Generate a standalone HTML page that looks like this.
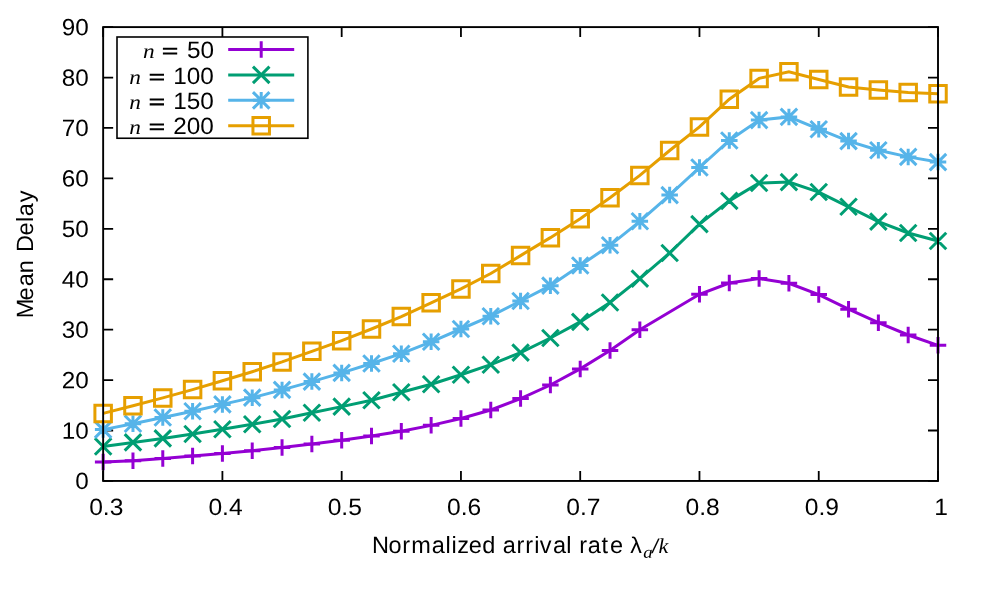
<!DOCTYPE html>
<html><head><meta charset="utf-8"><title>Mean Delay vs Normalized arrival rate</title>
<style>html,body{margin:0;padding:0;background:#fff;overflow:hidden}svg{display:block;will-change:transform}text{font-family:"Liberation Sans",sans-serif;fill:#000;white-space:pre;text-rendering:geometricPrecision}text.si{font-family:"Liberation Serif",serif;font-style:italic}text.it{font-style:italic}</style></head>
<body>
<svg width="981" height="589" viewBox="0 0 981 589">
<rect width="981" height="589" fill="#fff"/>
<path d="M103.15 480.95V470.95M103.15 27.1V37.1M222.41 480.95V470.95M222.41 27.1V37.1M341.68 480.95V470.95M341.68 27.1V37.1M460.94 480.95V470.95M460.94 27.1V37.1M580.21 480.95V470.95M580.21 27.1V37.1M699.47 480.95V470.95M699.47 27.1V37.1M818.74 480.95V470.95M818.74 27.1V37.1M938 480.95V470.95M938 27.1V37.1M103.15 480.95H113.15M938 480.95H928M103.15 430.52H113.15M938 430.52H928M103.15 380.09H113.15M938 380.09H928M103.15 329.67H113.15M938 329.67H928M103.15 279.24H113.15M938 279.24H928M103.15 228.81H113.15M938 228.81H928M103.15 178.38H113.15M938 178.38H928M103.15 127.96H113.15M938 127.96H928M103.15 77.53H113.15M938 77.53H928M103.15 27.1H113.15M938 27.1H928" stroke="#000" stroke-width="1.8" fill="none"/>
<rect x="117" y="37" width="190.9" height="101.25" fill="none" stroke="#000" stroke-width="1.6"/>
<g stroke="#9400d3" stroke-width="3.0" fill="none"><path d="M103.15 462L132.97 460.65L162.78 458.4L192.6 455.9L222.41 453.5L252.23 450.65L282.05 447.4L311.86 444.1L341.68 440.2L371.49 436.1L401.31 431.2L431.13 425.35L460.94 418.5L490.76 410L520.58 398.6L550.39 385L580.21 368.9L610.02 350.45L639.84 329.74L699.47 294.25L729.29 283L759.1 278.6L788.92 283.3L818.74 294.6L848.55 309.15L878.37 322.65L908.18 335L938 345.3" stroke-linejoin="miter"/><path d="M94.9 462H111.4M103.15 453.75V470.25M124.72 460.65H141.22M132.97 452.4V468.9M154.53 458.4H171.03M162.78 450.15V466.65M184.35 455.9H200.85M192.6 447.65V464.15M214.16 453.5H230.66M222.41 445.25V461.75M243.98 450.65H260.48M252.23 442.4V458.9M273.8 447.4H290.3M282.05 439.15V455.65M303.61 444.1H320.11M311.86 435.85V452.35M333.43 440.2H349.93M341.68 431.95V448.45M363.24 436.1H379.74M371.49 427.85V444.35M393.06 431.2H409.56M401.31 422.95V439.45M422.88 425.35H439.38M431.13 417.1V433.6M452.69 418.5H469.19M460.94 410.25V426.75M482.51 410H499.01M490.76 401.75V418.25M512.33 398.6H528.83M520.58 390.35V406.85M542.14 385H558.64M550.39 376.75V393.25M571.96 368.9H588.46M580.21 360.65V377.15M601.77 350.45H618.27M610.02 342.2V358.7M631.59 329.74H648.09M639.84 321.49V337.99M691.22 294.25H707.72M699.47 286V302.5M721.04 283H737.54M729.29 274.75V291.25M750.85 278.6H767.35M759.1 270.35V286.85M780.67 283.3H797.17M788.92 275.05V291.55M810.49 294.6H826.99M818.74 286.35V302.85M840.3 309.15H856.8M848.55 300.9V317.4M870.12 322.65H886.62M878.37 314.4V330.9M899.93 335H916.43M908.18 326.75V343.25M929.75 345.3H946.25M938 337.05V353.55"/></g>
<g stroke="#9400d3" stroke-width="3.0" fill="none"><path d="M228.2 49.55H294.2"/><path d="M252.95 49.55H269.45M261.2 41.3V57.8"/></g>
<g stroke="#009e73" stroke-width="3.0" fill="none"><path d="M103.15 446.5L132.97 442.4L162.78 438.4L192.6 434L222.41 429.2L252.23 424.3L282.05 419L311.86 412.8L341.68 406.6L371.49 400.2L401.31 392.3L431.13 384.25L460.94 374.8L490.76 364.7L520.58 352.6L550.39 338L580.21 321.9L610.02 302.5L639.84 278.6L669.66 253L699.47 224.1L729.29 200.85L759.1 183L788.92 182.1L818.74 192.05L848.55 206.8L878.37 221.6L908.18 233L938 241" stroke-linejoin="miter"/><path d="M94.9 438.25L111.4 454.75M94.9 454.75L111.4 438.25M124.72 434.15L141.22 450.65M124.72 450.65L141.22 434.15M154.53 430.15L171.03 446.65M154.53 446.65L171.03 430.15M184.35 425.75L200.85 442.25M184.35 442.25L200.85 425.75M214.16 420.95L230.66 437.45M214.16 437.45L230.66 420.95M243.98 416.05L260.48 432.55M243.98 432.55L260.48 416.05M273.8 410.75L290.3 427.25M273.8 427.25L290.3 410.75M303.61 404.55L320.11 421.05M303.61 421.05L320.11 404.55M333.43 398.35L349.93 414.85M333.43 414.85L349.93 398.35M363.24 391.95L379.74 408.45M363.24 408.45L379.74 391.95M393.06 384.05L409.56 400.55M393.06 400.55L409.56 384.05M422.88 376L439.38 392.5M422.88 392.5L439.38 376M452.69 366.55L469.19 383.05M452.69 383.05L469.19 366.55M482.51 356.45L499.01 372.95M482.51 372.95L499.01 356.45M512.33 344.35L528.83 360.85M512.33 360.85L528.83 344.35M542.14 329.75L558.64 346.25M542.14 346.25L558.64 329.75M571.96 313.65L588.46 330.15M571.96 330.15L588.46 313.65M601.77 294.25L618.27 310.75M601.77 310.75L618.27 294.25M631.59 270.35L648.09 286.85M631.59 286.85L648.09 270.35M661.41 244.75L677.91 261.25M661.41 261.25L677.91 244.75M691.22 215.85L707.72 232.35M691.22 232.35L707.72 215.85M721.04 192.6L737.54 209.1M721.04 209.1L737.54 192.6M750.85 174.75L767.35 191.25M750.85 191.25L767.35 174.75M780.67 173.85L797.17 190.35M780.67 190.35L797.17 173.85M810.49 183.8L826.99 200.3M810.49 200.3L826.99 183.8M840.3 198.55L856.8 215.05M840.3 215.05L856.8 198.55M870.12 213.35L886.62 229.85M870.12 229.85L886.62 213.35M899.93 224.75L916.43 241.25M899.93 241.25L916.43 224.75M929.75 232.75L946.25 249.25M929.75 249.25L946.25 232.75"/></g>
<g stroke="#009e73" stroke-width="3.0" fill="none"><path d="M228.2 74.93H294.2"/><path d="M252.95 66.68L269.45 83.18M252.95 83.18L269.45 66.68"/></g>
<g stroke="#56b4e9" stroke-width="3.0" fill="none"><path d="M103.15 429.6L132.97 423.7L162.78 417.55L192.6 411.2L222.41 404.4L252.23 397.65L282.05 389.9L311.86 381.6L341.68 372.9L371.49 363.5L401.31 353.7L431.13 341.8L460.94 329L490.76 316.2L520.58 301L550.39 285.65L580.21 265.5L610.02 245.3L639.84 221.3L669.66 195.1L699.47 167.5L729.29 140.5L759.1 120.1L788.92 116.9L818.74 129.2L848.55 141.1L878.37 150.2L908.18 156.9L938 162.1" stroke-linejoin="miter"/><path d="M94.9 429.6H111.4M103.15 421.35V437.85M94.9 421.35L111.4 437.85M94.9 437.85L111.4 421.35M124.72 423.7H141.22M132.97 415.45V431.95M124.72 415.45L141.22 431.95M124.72 431.95L141.22 415.45M154.53 417.55H171.03M162.78 409.3V425.8M154.53 409.3L171.03 425.8M154.53 425.8L171.03 409.3M184.35 411.2H200.85M192.6 402.95V419.45M184.35 402.95L200.85 419.45M184.35 419.45L200.85 402.95M214.16 404.4H230.66M222.41 396.15V412.65M214.16 396.15L230.66 412.65M214.16 412.65L230.66 396.15M243.98 397.65H260.48M252.23 389.4V405.9M243.98 389.4L260.48 405.9M243.98 405.9L260.48 389.4M273.8 389.9H290.3M282.05 381.65V398.15M273.8 381.65L290.3 398.15M273.8 398.15L290.3 381.65M303.61 381.6H320.11M311.86 373.35V389.85M303.61 373.35L320.11 389.85M303.61 389.85L320.11 373.35M333.43 372.9H349.93M341.68 364.65V381.15M333.43 364.65L349.93 381.15M333.43 381.15L349.93 364.65M363.24 363.5H379.74M371.49 355.25V371.75M363.24 355.25L379.74 371.75M363.24 371.75L379.74 355.25M393.06 353.7H409.56M401.31 345.45V361.95M393.06 345.45L409.56 361.95M393.06 361.95L409.56 345.45M422.88 341.8H439.38M431.13 333.55V350.05M422.88 333.55L439.38 350.05M422.88 350.05L439.38 333.55M452.69 329H469.19M460.94 320.75V337.25M452.69 320.75L469.19 337.25M452.69 337.25L469.19 320.75M482.51 316.2H499.01M490.76 307.95V324.45M482.51 307.95L499.01 324.45M482.51 324.45L499.01 307.95M512.33 301H528.83M520.58 292.75V309.25M512.33 292.75L528.83 309.25M512.33 309.25L528.83 292.75M542.14 285.65H558.64M550.39 277.4V293.9M542.14 277.4L558.64 293.9M542.14 293.9L558.64 277.4M571.96 265.5H588.46M580.21 257.25V273.75M571.96 257.25L588.46 273.75M571.96 273.75L588.46 257.25M601.77 245.3H618.27M610.02 237.05V253.55M601.77 237.05L618.27 253.55M601.77 253.55L618.27 237.05M631.59 221.3H648.09M639.84 213.05V229.55M631.59 213.05L648.09 229.55M631.59 229.55L648.09 213.05M661.41 195.1H677.91M669.66 186.85V203.35M661.41 186.85L677.91 203.35M661.41 203.35L677.91 186.85M691.22 167.5H707.72M699.47 159.25V175.75M691.22 159.25L707.72 175.75M691.22 175.75L707.72 159.25M721.04 140.5H737.54M729.29 132.25V148.75M721.04 132.25L737.54 148.75M721.04 148.75L737.54 132.25M750.85 120.1H767.35M759.1 111.85V128.35M750.85 111.85L767.35 128.35M750.85 128.35L767.35 111.85M780.67 116.9H797.17M788.92 108.65V125.15M780.67 108.65L797.17 125.15M780.67 125.15L797.17 108.65M810.49 129.2H826.99M818.74 120.95V137.45M810.49 120.95L826.99 137.45M810.49 137.45L826.99 120.95M840.3 141.1H856.8M848.55 132.85V149.35M840.3 132.85L856.8 149.35M840.3 149.35L856.8 132.85M870.12 150.2H886.62M878.37 141.95V158.45M870.12 141.95L886.62 158.45M870.12 158.45L886.62 141.95M899.93 156.9H916.43M908.18 148.65V165.15M899.93 148.65L916.43 165.15M899.93 165.15L916.43 148.65M929.75 162.1H946.25M938 153.85V170.35M929.75 153.85L946.25 170.35M929.75 170.35L946.25 153.85"/></g>
<g stroke="#56b4e9" stroke-width="3.0" fill="none"><path d="M228.2 100.32H294.2"/><path d="M252.95 100.32H269.45M261.2 92.07V108.57M252.95 92.07L269.45 108.57M252.95 108.57L269.45 92.07"/></g>
<g stroke="#e69f00" stroke-width="3.0" fill="none"><path d="M103.15 413.4L132.97 405.8L162.78 397.9L192.6 389.6L222.41 380.8L252.23 371.7L282.05 361.9L311.86 351.3L341.68 340.7L371.49 329L401.31 316.55L431.13 302.8L460.94 288.9L490.76 273.5L520.58 255.6L550.39 237.65L580.21 218.65L610.02 197.7L639.84 175.4L669.66 150.5L699.47 126.9L729.29 99.2L759.1 78.4L788.92 71.8L818.74 79.55L848.55 87L878.37 90L908.18 92.5L938 93.7" stroke-linejoin="miter"/><path d="M94.9 405.15H111.4V421.65H94.9ZM124.72 397.55H141.22V414.05H124.72ZM154.53 389.65H171.03V406.15H154.53ZM184.35 381.35H200.85V397.85H184.35ZM214.16 372.55H230.66V389.05H214.16ZM243.98 363.45H260.48V379.95H243.98ZM273.8 353.65H290.3V370.15H273.8ZM303.61 343.05H320.11V359.55H303.61ZM333.43 332.45H349.93V348.95H333.43ZM363.24 320.75H379.74V337.25H363.24ZM393.06 308.3H409.56V324.8H393.06ZM422.88 294.55H439.38V311.05H422.88ZM452.69 280.65H469.19V297.15H452.69ZM482.51 265.25H499.01V281.75H482.51ZM512.33 247.35H528.83V263.85H512.33ZM542.14 229.4H558.64V245.9H542.14ZM571.96 210.4H588.46V226.9H571.96ZM601.77 189.45H618.27V205.95H601.77ZM631.59 167.15H648.09V183.65H631.59ZM661.41 142.25H677.91V158.75H661.41ZM691.22 118.65H707.72V135.15H691.22ZM721.04 90.95H737.54V107.45H721.04ZM750.85 70.15H767.35V86.65H750.85ZM780.67 63.55H797.17V80.05H780.67ZM810.49 71.3H826.99V87.8H810.49ZM840.3 78.75H856.8V95.25H840.3ZM870.12 81.75H886.62V98.25H870.12ZM899.93 84.25H916.43V100.75H899.93ZM929.75 85.45H946.25V101.95H929.75Z"/></g>
<g stroke="#e69f00" stroke-width="3.0" fill="none"><path d="M228.2 125.7H294.2"/><path d="M252.95 117.45H269.45V133.95H252.95Z"/></g>
<rect x="103.15" y="27.1" width="834.85" height="453.85" fill="none" stroke="#000" stroke-width="1.9"/>
<path d="M162.9 47.75H177.2V49.75H162.9ZM162.9 52.45H177.2V54.55H162.9ZM149.7 73.7H164V75.7H149.7ZM149.7 78.4H164V80.5H149.7ZM149.7 98.6H164V100.6H149.7ZM149.7 103.3H164V105.4H149.7ZM149.7 123.55H164V125.55H149.7ZM149.7 128.25H164V130.35H149.7Z" fill="#000"/>
<text transform="translate(75.221 489.1) rotate(.05) scale(1.031 1)" font-size="23.5">0</text>
<text transform="translate(61.819 438.672) rotate(.05) scale(1.031 1)" font-size="23.5">10</text>
<text transform="translate(61.819 388.244) rotate(.05) scale(1.031 1)" font-size="23.5">20</text>
<text transform="translate(61.819 337.817) rotate(.05) scale(1.031 1)" font-size="23.5">30</text>
<text transform="translate(61.819 287.389) rotate(.05) scale(1.031 1)" font-size="23.5">40</text>
<text transform="translate(61.819 236.961) rotate(.05) scale(1.031 1)" font-size="23.5">50</text>
<text transform="translate(61.819 186.533) rotate(.05) scale(1.031 1)" font-size="23.5">60</text>
<text transform="translate(61.819 136.106) rotate(.05) scale(1.031 1)" font-size="23.5">70</text>
<text transform="translate(61.819 85.678) rotate(.05) scale(1.031 1)" font-size="23.5">80</text>
<text transform="translate(61.819 35.25) rotate(.05) scale(1.031 1)" font-size="23.5">90</text>
<text transform="translate(89.153 515) rotate(.05) scale(1.047 1)" font-size="23.5">0.3</text>
<text transform="translate(208.417 515) rotate(.05) scale(1.047 1)" font-size="23.5">0.4</text>
<text transform="translate(327.681 515) rotate(.05) scale(1.047 1)" font-size="23.5">0.5</text>
<text transform="translate(446.946 515) rotate(.05) scale(1.047 1)" font-size="23.5">0.6</text>
<text transform="translate(566.21 515) rotate(.05) scale(1.047 1)" font-size="23.5">0.7</text>
<text transform="translate(685.474 515) rotate(.05) scale(1.047 1)" font-size="23.5">0.8</text>
<text transform="translate(804.739 515) rotate(.05) scale(1.047 1)" font-size="23.5">0.9</text>
<text transform="translate(934.301 515) rotate(.05) scale(1.047 1)" font-size="23.5">1</text>
<text transform="translate(373.84 553) rotate(.05) scale(1 1)" x="-1.928 14.723 28.499 37.299 58.012 71.677 77.648 83.408 94.962 108.523" font-size="23.5">Normalized</text>
<text transform="translate(503.64 553) rotate(.05) scale(1 1)" x="-0.998 12.799 21.639 30.588 36.04 49.362 62.607" font-size="23.5">arrival</text>
<text transform="translate(580.7 553) rotate(.05) scale(1 1)" x="-1.561 7.142 20.704 29.342" font-size="23.5">rate</text>
<text transform="translate(630.353 553) rotate(.05) scale(0.987 0.971)" font-size="23.5">λ</text>
<text transform="translate(643.148 557.65) rotate(.05) scale(1.103 0.994)" class="si" font-size="17">a</text>
<text transform="translate(652.19 553.1) rotate(.05) scale(0.872 0.853)" class="it" font-size="23.5">/</text>
<text transform="translate(658.525 553) rotate(.05) scale(1.033 1.003)" class="si" font-size="21.33">k</text>
<text transform="translate(32.6 316.35) rotate(-90) scale(1 1)" x="-1.928 15.952 30.152 43.089" font-size="23.5">Mean</text>
<text transform="translate(32.6 250.1) rotate(-90) scale(1 1)" x="-1.928 14.602 28.217 33.902 47.843" font-size="23.5">Delay</text>
<text transform="translate(186.965 58) rotate(.05) scale(1.035 1)" font-size="23.5">50</text>
<text transform="translate(143.029 58.05) rotate(.05) scale(1.094 0.965)" class="si" font-size="21.33">n</text>
<text transform="translate(173.309 84) rotate(.05) scale(1.035 1)" font-size="23.5">100</text>
<text transform="translate(129.329 84.05) rotate(.05) scale(1.094 0.965)" class="si" font-size="21.33">n</text>
<text transform="translate(173.309 109) rotate(.05) scale(1.035 1)" font-size="23.5">150</text>
<text transform="translate(129.329 109.05) rotate(.05) scale(1.094 0.965)" class="si" font-size="21.33">n</text>
<text transform="translate(173.309 134) rotate(.05) scale(1.035 1)" font-size="23.5">200</text>
<text transform="translate(129.329 134.05) rotate(.05) scale(1.094 0.965)" class="si" font-size="21.33">n</text>
</svg>
</body></html>
